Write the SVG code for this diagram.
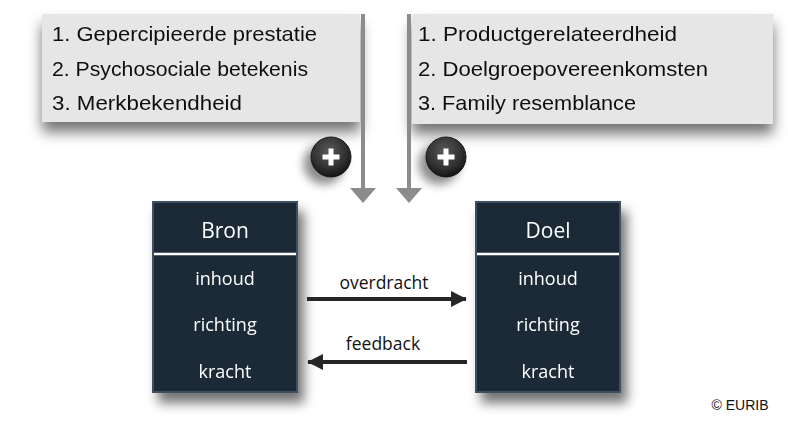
<svg xmlns="http://www.w3.org/2000/svg" width="788" height="428" viewBox="0 0 788 428">
<defs>
<filter id="sh" x="-20%" y="-20%" width="150%" height="160%">
<feGaussianBlur in="SourceAlpha" stdDeviation="6"/>
<feOffset dx="6" dy="10" result="b"/>
<feFlood flood-color="#000" flood-opacity="0.55"/>
<feComposite in2="b" operator="in"/>
<feMerge><feMergeNode/><feMergeNode in="SourceGraphic"/></feMerge>
</filter>
<filter id="shl" x="-20%" y="-30%" width="140%" height="170%">
<feGaussianBlur in="SourceAlpha" stdDeviation="7"/>
<feOffset dx="0" dy="10" result="b"/>
<feFlood flood-color="#000" flood-opacity="0.55"/>
<feComposite in2="b" operator="in"/>
<feMerge><feMergeNode/><feMergeNode in="SourceGraphic"/></feMerge>
</filter>
<filter id="sh2" x="-80%" y="-80%" width="260%" height="260%">
<feGaussianBlur in="SourceAlpha" stdDeviation="5"/>
<feOffset dx="-7" dy="7" result="b"/>
<feFlood flood-color="#000" flood-opacity="0.45"/>
<feComposite in2="b" operator="in"/>
<feMerge><feMergeNode/><feMergeNode in="SourceGraphic"/></feMerge>
</filter>
<radialGradient id="btn" cx="45%" cy="35%" r="65%">
<stop offset="0" stop-color="#5a5a5a"/>
<stop offset="0.7" stop-color="#2e2e2e"/>
<stop offset="1" stop-color="#151515"/>
</radialGradient>
<marker id="ah" markerWidth="4" markerHeight="4" refX="3.8" refY="2" orient="auto" markerUnits="strokeWidth">
<path d="M0,0 L4,2 L0,4 z" fill="#262626"/>
</marker>
</defs>
<style>
.list{fill:#e6e6e6}
.lt{font-family:"Liberation Sans",Arial,sans-serif;font-size:21px;fill:#111}
.box{fill:#1b2b38;stroke:#3d5060;stroke-width:2}
.bt{font-family:"Open Sans","Liberation Sans",sans-serif;font-size:18px;fill:#fff;text-anchor:middle}
.bh{font-size:21px}
.al{font-family:"Open Sans","Liberation Sans",sans-serif;font-size:17.5px;fill:#111;text-anchor:middle}
.conn{stroke:#262626;stroke-width:4;fill:none}
.garrow{stroke:#8c8c8c;stroke-width:4;fill:none}
</style>

<g id="list-left" filter="url(#shl)">
<rect class="list" x="42" y="14" width="318" height="108"/>
<text class="lt" x="52" y="41" textLength="265" lengthAdjust="spacingAndGlyphs">1. Gepercipieerde prestatie</text>
<text class="lt" x="52" y="76" textLength="256" lengthAdjust="spacingAndGlyphs">2. Psychosociale betekenis</text>
<text class="lt" x="52" y="110" textLength="190" lengthAdjust="spacingAndGlyphs">3. Merkbekendheid</text>
</g>
<g id="list-right" filter="url(#shl)">
<rect class="list" x="412" y="14" width="361" height="110"/>
<text class="lt" x="418" y="41" textLength="259" lengthAdjust="spacingAndGlyphs">1. Productgerelateerdheid</text>
<text class="lt" x="418" y="76" textLength="290" lengthAdjust="spacingAndGlyphs">2. Doelgroepovereenkomsten</text>
<text class="lt" x="418" y="110" textLength="218" lengthAdjust="spacingAndGlyphs">3. Family resemblance</text>
</g>

<g id="arrows-down">
<line class="garrow" x1="363" y1="14" x2="363" y2="190"/>
<path d="M350,188 L376,188 L363,203 z" fill="#8c8c8c"/>
<line class="garrow" x1="409" y1="14" x2="409" y2="190"/>
<path d="M396,188 L422,188 L409,203 z" fill="#8c8c8c"/>
</g>

<g id="plus-left" filter="url(#sh2)">
<circle cx="331" cy="157" r="20" fill="url(#btn)" stroke="#1a1a1a" stroke-width="1"/>
<path d="M322.5,157 H339.5 M331,148.5 V165.5" stroke="#fff" stroke-width="5"/>
</g>
<g id="plus-right" filter="url(#sh2)">
<circle cx="446" cy="157" r="20" fill="url(#btn)" stroke="#1a1a1a" stroke-width="1"/>
<path d="M437.5,157 H454.5 M446,148.5 V165.5" stroke="#fff" stroke-width="5"/>
</g>

<g id="bron" filter="url(#sh)">
<rect class="box" x="153" y="202" width="144" height="190"/>
<line x1="154" y1="254" x2="296" y2="254" stroke="#fff" stroke-width="2.5"/>
<text class="bt bh" x="225" y="238">Bron</text>
<text class="bt" x="225" y="285">inhoud</text>
<text class="bt" x="225" y="331">richting</text>
<text class="bt" x="225" y="378">kracht</text>
</g>
<g id="doel" filter="url(#sh)">
<rect class="box" x="476" y="202" width="144" height="190"/>
<line x1="477" y1="254" x2="619" y2="254" stroke="#fff" stroke-width="2.5"/>
<text class="bt bh" x="548" y="238">Doel</text>
<text class="bt" x="548" y="285">inhoud</text>
<text class="bt" x="548" y="331">richting</text>
<text class="bt" x="548" y="378">kracht</text>
</g>

<g id="connectors">
<line class="conn" x1="307" y1="299" x2="466" y2="299" marker-end="url(#ah)"/>
<text class="al" x="384" y="289">overdracht</text>
<line class="conn" x1="467" y1="362" x2="308" y2="362" marker-end="url(#ah)"/>
<text class="al" x="383" y="350">feedback</text>
</g>

<text x="740" y="410" font-family="Liberation Sans,Arial,sans-serif" font-size="14" fill="#111" text-anchor="middle">© EURIB</text>
</svg>
